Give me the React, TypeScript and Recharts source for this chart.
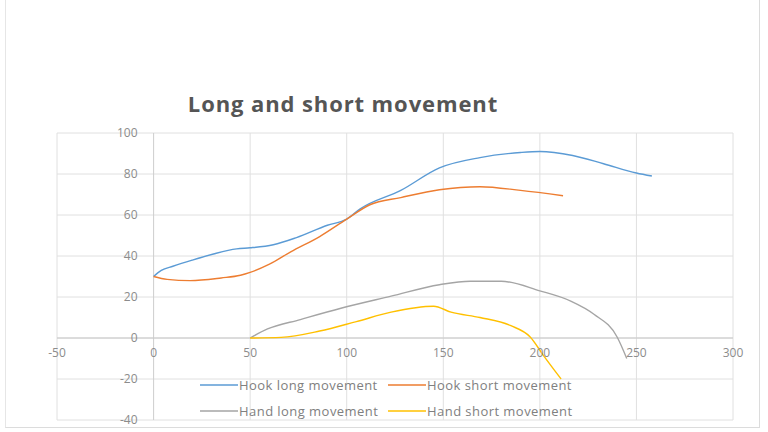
import React from 'react';
import { LineChart, Line, XAxis, YAxis, CartesianGrid, ReferenceLine, ReferenceDot, Legend } from 'recharts';

const hookLongX = [0, 4, 10, 20, 31, 43, 50, 62, 74, 90, 100, 107, 128, 148, 169, 190, 200, 217, 233, 250, 258];
const hookLongY = [30, 33, 35, 38, 41, 43.5, 44, 45.5, 49, 55, 58, 63, 72, 83, 88, 90.5, 91, 89, 85, 80.5, 79];

const hookShortX = [0, 7, 19, 35, 45, 50, 60, 71, 86, 100, 112, 128, 148, 169, 190, 212];
const hookShortY = [30, 28.6, 28, 29.3, 30.6, 32, 36, 42, 49.5, 58, 65, 68.5, 72.3, 73.8, 72, 69.4];

const handLongX = [50, 59, 76, 97, 123, 148, 164, 180, 200, 216, 228, 240, 245];
const handLongY = [0, 4.4, 9, 14.5, 20.4, 26, 27.7, 27.7, 23, 18, 11.6, 0.5, -10];

const handShortX = [50, 66, 86, 105, 123, 145, 154, 169, 185, 195, 202, 211];
const handShortY = [0, 0.3, 3.4, 8, 12.6, 15.5, 12.6, 10, 6, 0.5, -8.7, -20];

const seriesNames = ['Hook long movement', 'Hook short movement', 'Hand long movement', 'Hand short movement'];
const seriesColors = ['#5B9BD5', '#ED7D31', '#A5A5A5', '#FFC000'];

const xTicks = [-50, 0, 50, 100, 150, 200, 250, 300];
const yTicks = [-40, -20, 0, 20, 40, 60, 80, 100];

const toPoints = (xs: number[], ys: number[]) => xs.map((x, i) => ({ x, y: ys[i] }));
const seriesData = [
  toPoints(hookLongX, hookLongY),
  toPoints(hookShortX, hookShortY),
  toPoints(handLongX, handLongY),
  toPoints(handShortX, handShortY),
];

const FONT = '"Open Sans", sans-serif';
const TICK_COLOR = '#8c8c8c';

const renderLegend = (props: any) => {
  const payload = [...(props.payload || [])].sort(
    (a: any, b: any) => seriesNames.indexOf(a.value) - seriesNames.indexOf(b.value)
  );
  return (
    <div style={{ display: 'grid', gridTemplateColumns: '188px 188px', rowGap: 8, fontFamily: FONT, fontSize: 13, letterSpacing: 0.45, color: '#808080' }}>
      {payload.map((entry: any) => (
        <div key={entry.value} style={{ display: 'flex', alignItems: 'center', height: 18 }}>
          <svg width={38} height={4} style={{ marginRight: 1 }}>
            <line x1={0} y1={2} x2={38} y2={2} stroke={entry.color} strokeWidth={1.5} />
          </svg>
          <span style={{ whiteSpace: 'nowrap' }}>{entry.value}</span>
        </div>
      ))}
    </div>
  );
};

export default function App() {
  return (
    <div style={{ position: 'absolute', left: 0, top: 0, width: 768, height: 432, background: '#fff' }}>
      <div style={{ position: 'absolute', left: 5, top: 0, width: 753, height: 427, borderLeft: '1px solid #e6e6e6', borderRight: '1px solid #dcdcdc', borderBottom: '1px solid #dcdcdc' }} />
      <div style={{ position: 'absolute', left: 0, width: 686, top: 89, textAlign: 'center', fontFamily: FONT, fontWeight: 700, fontSize: 22, lineHeight: '28px', color: '#555', letterSpacing: 0.9 }}>
        Long and short movement
      </div>
      <LineChart width={768} height={432} margin={{ top: 133, right: 35, bottom: 12, left: 57 }} style={{ position: 'absolute', left: 0, top: 0 }}>
        <CartesianGrid stroke="#e0e0e0" strokeWidth={1} />
        <XAxis type="number" dataKey="x" domain={[-50, 300]} ticks={xTicks} allowDataOverflow hide />
        <YAxis type="number" dataKey="y" domain={[-40, 100]} ticks={yTicks} allowDataOverflow hide />
        <ReferenceLine x={0} stroke="#d0d0d0" />
        <ReferenceLine y={0} stroke="#c8c8c8" />
        {xTicks.map((v) => (
          <ReferenceDot key={'xt' + v} x={v} y={0} r={0} fill="none" stroke="none"
            label={{ value: String(v), position: 'bottom', offset: 10, fill: TICK_COLOR, fontSize: 12, fontFamily: FONT }} />
        ))}
        {yTicks.map((v) => (
          <ReferenceDot key={'yt' + v} x={0} y={v} r={0} fill="none" stroke="none"
            label={{ value: String(v), position: 'left', offset: 16, fill: TICK_COLOR, fontSize: 12, fontFamily: FONT }} />
        ))}
        {seriesData.map((d, i) => (
          <Line key={seriesNames[i]} data={d} dataKey="y" name={seriesNames[i]} type="monotone"
            stroke={seriesColors[i]} strokeWidth={1.4} dot={false} activeDot={false} isAnimationActive={false} />
        ))}
        <Legend layout="horizontal" verticalAlign="middle" align="center" content={renderLegend}
          wrapperStyle={{ position: 'absolute', left: 200, top: 376, width: 380, height: 50 }} />
      </LineChart>
    </div>
  );
}
